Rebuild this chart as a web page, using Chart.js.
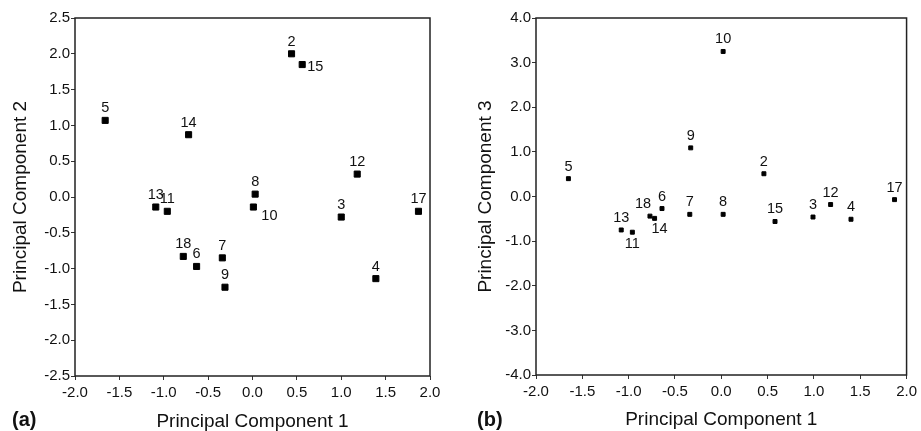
<!DOCTYPE html>
<html>
<head>
<meta charset="utf-8">
<script src="https://cdn.jsdelivr.net/npm/chart.js@4.4.1/dist/chart.umd.min.js"></script>
<style>
  body { margin: 0; background: #fff; width: 921px; height: 431px; overflow: hidden; position: relative; font-family: 'Liberation Sans', Arial, sans-serif; }
  .panel { position: absolute; top: 0; height: 431px; }
  .tag { position: absolute; top: 408px; font-weight: bold; font-size: 20px; color: #111; }
</style>
</head>
<body>
<div class="panel" style="left:0;width:460px"><canvas id="chartA" width="460" height="431"></canvas></div>
<div class="panel" style="left:460px;width:461px"><canvas id="chartB" width="461" height="431"></canvas></div>
<div class="tag" style="left:12px">(a)</div>
<div class="tag" style="left:477px">(b)</div>
<script>
'use strict'
// sample ids (same order in both panels)
const ids = ['2', '3', '4', '5', '6', '7', '8', '9', '10', '11', '12', '13', '14', '15', '17', '18'];

// panel (a): PC1 vs PC2
const pc1A = [0.44, 1.00, 1.39, -1.66, -0.63, -0.34, 0.03, -0.31, 0.01, -0.96, 1.18, -1.09, -0.72, 0.56, 1.87, -0.78];
const pc2A = [2.00, -0.28, -1.14, 1.07, -0.97, -0.85, 0.04, -1.26, -0.14, -0.20, 0.32, -0.14, 0.87, 1.85, -0.20, -0.83];
const placeA = ['n', 'n', 'n', 'n', 'n', 'n', 'n', 'n', 'se', 'n', 'n', 'n', 'n', 'e', 'n', 'n'];

// panel (b): PC1 vs PC3
const pc1B = [0.46, 0.99, 1.40, -1.65, -0.64, -0.34, 0.02, -0.33, 0.02, -0.96, 1.18, -1.08, -0.72, 0.58, 1.87, -0.77];
const pc3B = [0.51, -0.46, -0.51, 0.40, -0.27, -0.40, -0.40, 1.09, 3.25, -0.80, -0.18, -0.75, -0.49, -0.56, -0.07, -0.44];
const placeB = ['n', 'n', 'n', 'n', 'n', 'n', 'n', 'n', 'n', 's', 'n', 'n', 'sse', 'n', 'n', 'nw'];

const FONT = "'Liberation Sans', Arial, sans-serif";
const INK = '#111';
const OFFSETS = { n: [0, -12], e: [13, 2], se: [16, 9], s: [0, 12], sse: [5, 11], nw: [-7, -12] };

const framePlugin = {
    id: 'frame',
    afterDatasetsDraw(chart) {
        const a = chart.chartArea;
        const ctx = chart.ctx;
        ctx.save();
        ctx.strokeStyle = '#222';
        ctx.lineWidth = 1.5;
        ctx.strokeRect(a.left, a.top, a.right - a.left, a.bottom - a.top);
        ctx.restore();
    }
};

const pointLabels = {
    id: 'pointLabels',
    afterDatasetsDraw(chart, args, opts) {
        const ctx = chart.ctx;
        const meta = chart.getDatasetMeta(0);
        ctx.save();
        ctx.font = '14.5px ' + FONT;
        ctx.fillStyle = INK;
        ctx.textAlign = 'center';
        ctx.textBaseline = 'middle';
        meta.data.forEach((el, i) => {
            const off = OFFSETS[opts.place[i]] || OFFSETS.n;
            ctx.fillText(ids[i], el.x + off[0], el.y + off[1]);
        });
        ctx.restore();
    }
};

function makeChart(id, xs, ys, place, yMin, yMax, yStep, yTitle, cfg) {
    const data = xs.map((x, i) => ({ x: x, y: ys[i] }));
    const gridOpts = { display: true, drawOnChartArea: false, drawTicks: true, tickLength: 4, tickColor: '#333', lineWidth: 1 };
    return new Chart(document.getElementById(id), {
        type: 'scatter',
        data: {
            datasets: [{
                data: data,
                pointStyle: 'rect',
                pointRadius: cfg.radius,
                pointHoverRadius: cfg.radius,
                backgroundColor: '#000',
                borderColor: '#000',
                borderWidth: 1
            }]
        },
        options: {
            responsive: false,
            animation: false,
            events: [],
            layout: { padding: { top: 18, right: cfg.right, left: 0, bottom: 0 } },
            plugins: { legend: { display: false }, tooltip: { enabled: false }, pointLabels: { place: place } },
            scales: {
                x: {
                    type: 'linear', min: -2, max: 2,
                    afterFit: s => { s.height = cfg.xHeight; },
                    border: { display: false },
                    grid: gridOpts,
                    ticks: { stepSize: 0.5, padding: 4, color: INK, font: { family: FONT, size: 15 }, callback: v => v.toFixed(1), maxRotation: 0, autoSkip: false },
                    title: { display: true, text: 'Principal Component 1', color: INK, font: { family: FONT, size: 19, lineHeight: 1 }, padding: { top: 0, bottom: cfg.xTitlePad } }
                },
                y: {
                    type: 'linear', min: yMin, max: yMax,
                    afterFit: s => { s.width = cfg.yWidth; },
                    border: { display: false },
                    grid: gridOpts,
                    ticks: { stepSize: yStep, padding: 1, color: INK, font: { family: FONT, size: 15 }, callback: v => v.toFixed(1), autoSkip: false },
                    title: { display: true, text: yTitle, color: INK, font: { family: FONT, size: 19, lineHeight: 1 }, padding: { top: cfg.yTitlePad, bottom: 0 } }
                }
            }
        },
        plugins: [framePlugin, pointLabels]
    });
}

makeChart('chartA', pc1A, pc2A, placeA, -2.5, 2.5, 0.5, 'Principal Component 2',
    { radius: 4.3, right: 30, xHeight: 55, yWidth: 75, xTitlePad: 0, yTitlePad: 11 });
makeChart('chartB', pc1B, pc3B, placeB, -4, 4, 1, 'Principal Component 3',
    { radius: 2.8, right: 14, xHeight: 56, yWidth: 76, xTitlePad: 1.5, yTitlePad: 16 });
</script>
</body>
</html>
